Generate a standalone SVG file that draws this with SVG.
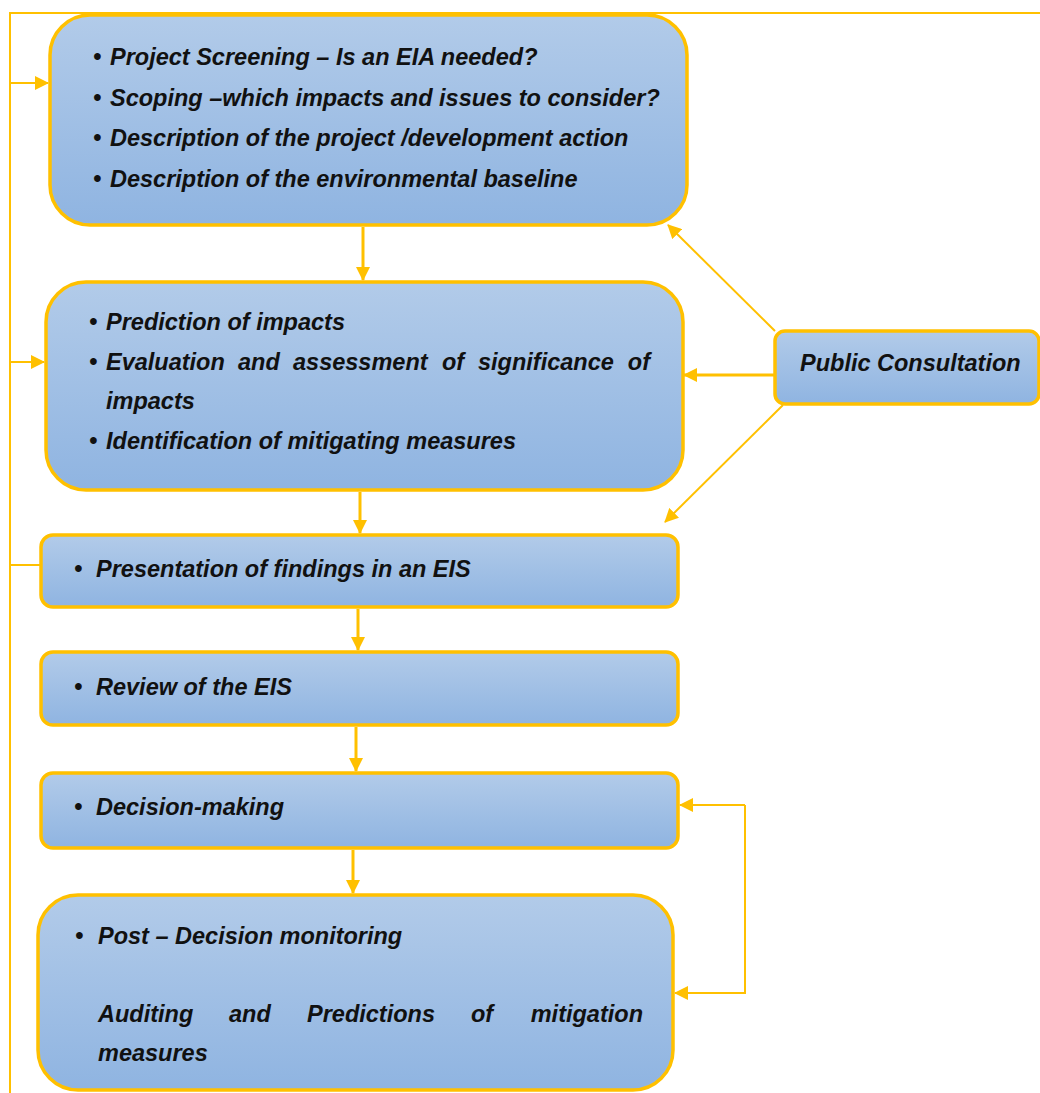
<svg xmlns="http://www.w3.org/2000/svg" width="1040" height="1093" viewBox="0 0 1040 1093">
<defs>
<linearGradient id="g" x1="0" y1="0" x2="0" y2="1">
<stop offset="0" stop-color="#b2cbe9"/>
<stop offset="1" stop-color="#8fb4e1"/>
</linearGradient>
<marker id="ahs" markerWidth="14" markerHeight="14" refX="13" refY="7" orient="auto" markerUnits="userSpaceOnUse">
<path d="M0,0 L14,7 L0,14 Z" fill="#ffc000"/>
</marker>
</defs>
<style>
.box{fill:url(#g);stroke:#ffc000;stroke-width:3.5}
.t{font-family:"Liberation Sans",Arial,sans-serif;font-size:23.5px;font-weight:bold;font-style:italic;fill:#111}
.e{text-anchor:end}
.c{fill:none;stroke:#ffc000;stroke-width:2}
.c3{fill:none;stroke:#ffc000;stroke-width:3}
</style>
<g id="connectors">
<polyline class="c" points="1040,13 10,13 10,1093"/>
<line class="c" x1="10" y1="83" x2="48" y2="83" marker-end="url(#ahs)"/>
<line class="c" x1="10" y1="362" x2="44" y2="362" marker-end="url(#ahs)"/>
<line class="c" x1="10" y1="565" x2="40" y2="565"/>
<line class="c3" x1="363" y1="227" x2="363" y2="280" marker-end="url(#ahs)"/>
<line class="c3" x1="360" y1="492" x2="360" y2="533" marker-end="url(#ahs)"/>
<line class="c3" x1="358" y1="609" x2="358" y2="650" marker-end="url(#ahs)"/>
<line class="c3" x1="356" y1="727" x2="356" y2="771" marker-end="url(#ahs)"/>
<line class="c3" x1="353" y1="850" x2="353" y2="893" marker-end="url(#ahs)"/>
<line class="c" x1="775" y1="331" x2="668" y2="225" marker-end="url(#ahs)"/>
<line class="c3" x1="775" y1="375" x2="684" y2="375" marker-end="url(#ahs)"/>
<line class="c" x1="783" y1="405" x2="665" y2="522" marker-end="url(#ahs)"/>
<polyline class="c" points="745,805 745,993 675,993" marker-end="url(#ahs)"/>
<polyline class="c" points="745,805 680,805" marker-end="url(#ahs)"/>
</g>
<g id="node-scoping">
<rect class="box" x="50" y="15" width="637" height="210" rx="40"/>
<text class="t" x="93" y="65">•</text><text class="t" x="110" y="65">Project Screening – Is an EIA needed?</text>
<text class="t" x="93" y="106">•</text><text class="t" x="110" y="106">Scoping –which impacts and issues to consider?</text>
<text class="t" x="93" y="146">•</text><text class="t" x="110" y="146">Description of the project /development action</text>
<text class="t" x="93" y="187">•</text><text class="t" x="110" y="187">Description of the environmental baseline</text>
</g>
<g id="node-prediction">
<rect class="box" x="46" y="282" width="637" height="208" rx="40"/>
<text class="t" x="89" y="330">•</text><text class="t" x="106" y="330">Prediction of impacts</text>
<text class="t" x="89" y="370">•</text>
<text class="t" x="106" y="370">Evaluation</text><text class="t" x="238" y="370">and</text><text class="t" x="293" y="370">assessment</text><text class="t" x="442" y="370">of</text><text class="t" x="478" y="370">significance</text><text class="t e" x="650" y="370">of</text>
<text class="t" x="106" y="409">impacts</text>
<text class="t" x="89" y="449">•</text><text class="t" x="106" y="449">Identification of mitigating measures</text>
</g>
<g id="node-public">
<rect class="box" x="775" y="331" width="264" height="73" rx="10"/>
<text class="t" x="800" y="371">Public Consultation</text>
</g>
<g id="node-presentation">
<rect class="box" x="41" y="535" width="637" height="72" rx="12"/>
<text class="t" x="74" y="577">•</text><text class="t" x="96" y="577">Presentation of findings in an EIS</text>
</g>
<g id="node-review">
<rect class="box" x="41" y="652" width="637" height="73" rx="12"/>
<text class="t" x="74" y="695">•</text><text class="t" x="96" y="695">Review of the EIS</text>
</g>
<g id="node-decision">
<rect class="box" x="41" y="773" width="637" height="75" rx="12"/>
<text class="t" x="74" y="815">•</text><text class="t" x="96" y="815">Decision-making</text>
</g>
<g id="node-monitoring">
<rect class="box" x="38" y="895" width="635" height="195" rx="40"/>
<text class="t" x="75" y="944">•</text><text class="t" x="98" y="944">Post – Decision monitoring</text>
<text class="t" x="98" y="1022">Auditing</text><text class="t" x="229" y="1022">and</text><text class="t" x="307" y="1022">Predictions</text><text class="t" x="471" y="1022">of</text><text class="t e" x="643" y="1022">mitigation</text>
<text class="t" x="98" y="1061">measures</text>
</g>
</svg>
